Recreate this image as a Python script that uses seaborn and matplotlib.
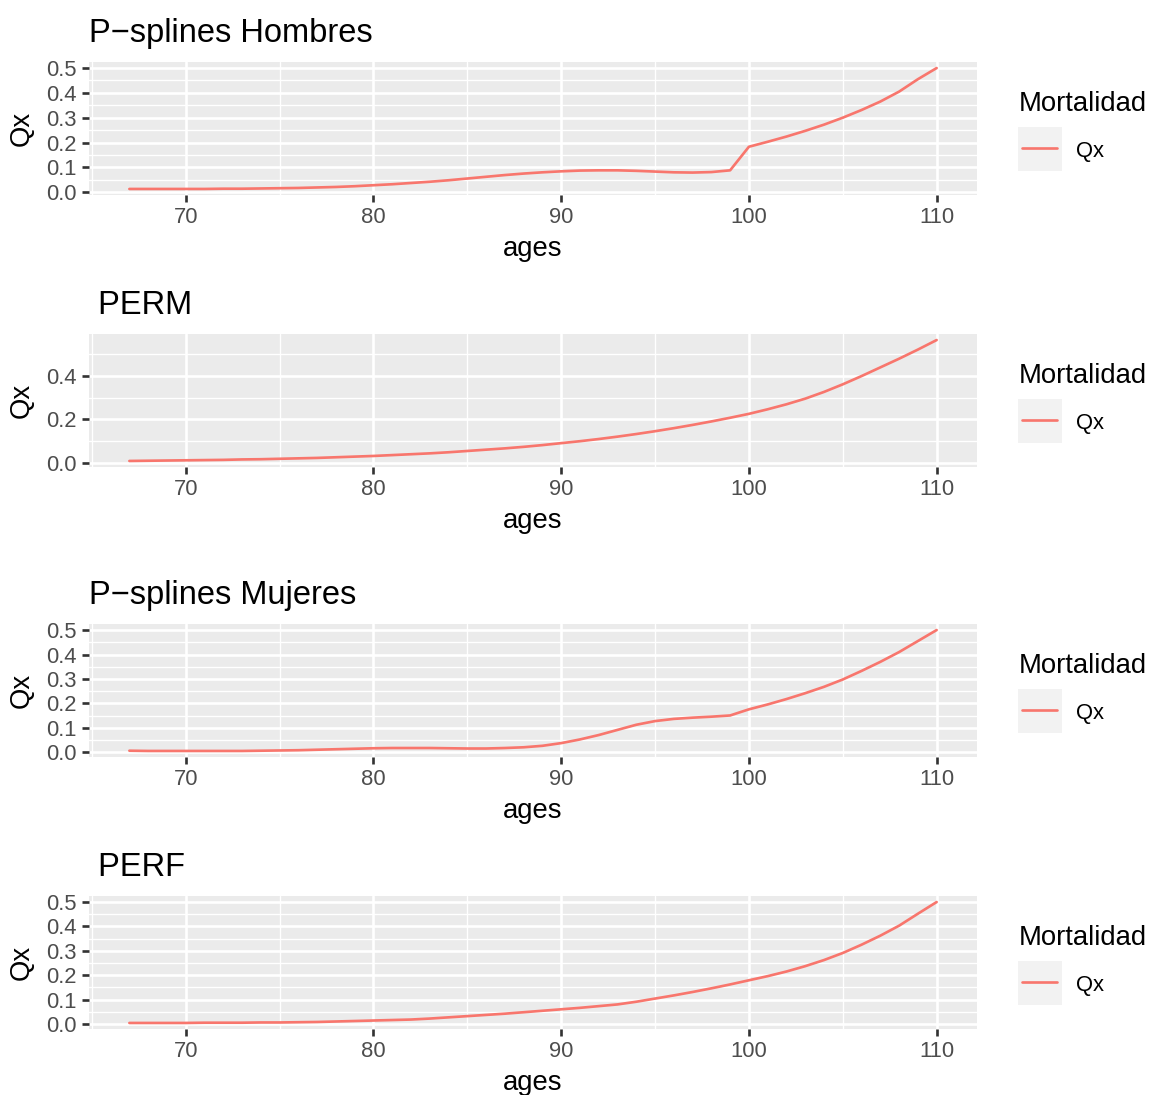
import seaborn as sns
import matplotlib.pyplot as plt
from matplotlib.ticker import MultipleLocator, FormatStrFormatter
from matplotlib.patches import Rectangle
from matplotlib.lines import Line2D

# --- DATOS ---
ages = list(range(67, 111))

qx_psplines_hombres = [0.013, 0.013, 0.013, 0.013, 0.013, 0.014, 0.014, 0.015, 0.016, 0.017,
                       0.019, 0.021, 0.024, 0.028, 0.032, 0.037, 0.042, 0.048, 0.055, 0.062,
                       0.069, 0.075, 0.080, 0.084, 0.087, 0.088, 0.088, 0.086, 0.083, 0.080,
                       0.079, 0.081, 0.088, 0.183, 0.203, 0.224, 0.247, 0.272, 0.300, 0.331,
                       0.365, 0.405, 0.455, 0.500]

qx_perm = [0.009, 0.010, 0.011, 0.012, 0.013, 0.014, 0.016, 0.017, 0.019, 0.021,
           0.023, 0.026, 0.029, 0.032, 0.036, 0.040, 0.044, 0.049, 0.055, 0.061,
           0.067, 0.074, 0.082, 0.091, 0.100, 0.110, 0.121, 0.133, 0.146, 0.160,
           0.175, 0.191, 0.208, 0.226, 0.247, 0.270, 0.296, 0.327, 0.362, 0.400,
           0.440, 0.480, 0.522, 0.566]

qx_psplines_mujeres = [0.007, 0.006, 0.006, 0.006, 0.006, 0.006, 0.006, 0.007, 0.008, 0.009,
                       0.011, 0.013, 0.015, 0.017, 0.018, 0.018, 0.018, 0.017, 0.016, 0.016,
                       0.018, 0.021, 0.027, 0.038, 0.053, 0.071, 0.092, 0.113, 0.128, 0.137,
                       0.142, 0.146, 0.151, 0.176, 0.196, 0.218, 0.242, 0.268, 0.298, 0.333,
                       0.370, 0.410, 0.455, 0.500]

qx_perf = [0.004, 0.004, 0.004, 0.004, 0.005, 0.005, 0.005, 0.006, 0.006, 0.007,
           0.008, 0.010, 0.012, 0.014, 0.016, 0.018, 0.022, 0.027, 0.032, 0.037,
           0.042, 0.048, 0.054, 0.060, 0.066, 0.073, 0.080, 0.091, 0.104, 0.117,
           0.131, 0.146, 0.162, 0.179, 0.196, 0.215, 0.237, 0.262, 0.291, 0.325,
           0.362, 0.403, 0.452, 0.500]

titles = ["P\u2212splines Hombres", " PERM", "P\u2212splines Mujeres", " PERF"]
series = [qx_psplines_hombres, qx_perm, qx_psplines_mujeres, qx_perf]
y_steps = [0.1, 0.2, 0.1, 0.1]
legend_title = "Mortalidad"
legend_label = "Qx"

# --- ESTILO ---
sns.set_style("darkgrid", {"axes.facecolor": "#EBEBEB", "grid.color": "white"})
plt.rcParams['font.family'] = ['Liberation Sans', 'DejaVu Sans']

W, H = 1151, 1095
fig = plt.figure(figsize=(W / 100, H / 100), dpi=100)

# paneles en pixeles (arriba, abajo)
panels = [(62, 195), (334, 467), (624, 757), (896, 1029)]
left, right = 89, 977
red = '#F8766D'

for (top, bottom), vals, title, step in zip(panels, series, titles, y_steps):
    ax = fig.add_axes([left / W, 1 - bottom / H, (right - left) / W, (bottom - top) / H])
    sns.lineplot(x=ages, y=vals, ax=ax, color=red, linewidth=1.92, legend=False)

    span = ages[-1] - ages[0]
    ax.set_xlim(ages[0] - 0.05 * span, ages[-1] + 0.05 * span)
    lo, hi = min(vals), max(vals)
    pad = 0.05 * (hi - lo)
    ax.set_ylim(lo - pad, hi + pad)

    ax.xaxis.set_major_locator(MultipleLocator(10))
    ax.xaxis.set_minor_locator(MultipleLocator(5))
    ax.yaxis.set_major_locator(MultipleLocator(step))
    ax.yaxis.set_minor_locator(MultipleLocator(step / 2))
    ax.yaxis.set_major_formatter(FormatStrFormatter('%.1f'))
    ax.grid(True, which='major', color='white', linewidth=1.92)
    ax.grid(True, which='minor', color='white', linewidth=0.96)
    ax.tick_params(which='major', length=4.95, width=1.92, color='#333333',
                   labelsize=15.8, labelcolor='#4D4D4D', pad=3.96, left=True, bottom=True)
    ax.tick_params(which='minor', length=0)
    for s in ax.spines.values():
        s.set_visible(False)

    ax.set_xlabel('ages', fontsize=19.8, labelpad=5.4, color='black')
    ax.set_ylabel('Qx', fontsize=19.8, labelpad=8, color='black')
    ax.set_title(title, loc='left', fontsize=23.5, pad=14.4, color='black')

    # leyenda a la derecha
    cy = (top + bottom) / 2
    fig.text(1019 / W, 1 - (cy - 17.5) / H, legend_title, fontsize=19.8,
             va='baseline', ha='left', color='black')
    fig.patches.append(Rectangle((1018 / W, 1 - (cy + 42.5) / H), 44 / W, 44 / H,
                                 transform=fig.transFigure, facecolor='#F2F2F2', edgecolor='none'))
    fig.lines.append(Line2D([1022 / W, 1057 / W], [1 - (cy + 19.5) / H] * 2,
                            transform=fig.transFigure, color=red, linewidth=1.92))
    fig.text(1076 / W, 1 - (cy + 28.5) / H, legend_label, fontsize=15.8,
             va='baseline', ha='left', color='black')

plt.savefig('out.png', dpi=100)
plt.close()
